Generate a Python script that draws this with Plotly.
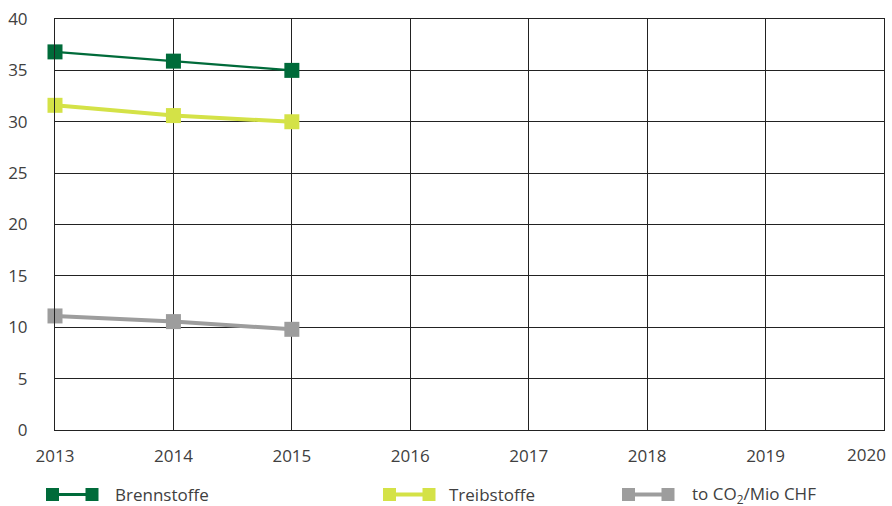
import plotly.graph_objects as go

years = [2013, 2014, 2015]
brennstoffe = [36.8, 35.9, 35.0]
treibstoffe = [31.6, 30.6, 30.0]
co2_mio_chf = [11.1, 10.55, 9.8]

x_ticks = [2013, 2014, 2015, 2016, 2017, 2018, 2019, 2020]
y_ticks = [0, 5, 10, 15, 20, 25, 30, 35, 40]

series = [
    ("Brennstoffe", brennstoffe, "#006B3A", 2.2),
    ("Treibstoffe", treibstoffe, "#D4E247", 4),
    ("to CO<sub>2</sub>/Mio CHF", co2_mio_chf, "#9D9D9D", 4),
]

fig = go.Figure()
for name, vals, color, lw in series:
    fig.add_trace(go.Scatter(
        x=years, y=vals, name=name, mode="lines+markers",
        line=dict(color=color, width=lw),
        marker=dict(symbol="square", size=15, color=color),
        cliponaxis=False, showlegend=False,
    ))

font = "Open Sans, Noto Sans, sans-serif"
tickfont = dict(family=font, size=17, color="#404040")
axis_common = dict(
    showgrid=True, gridcolor="#222222", gridwidth=1,
    showline=True, linecolor="#222222", linewidth=1, mirror=True,
    zeroline=False, ticks="", tickfont=tickfont,
)
# last x label would overflow the page edge; it is placed as a right-aligned annotation
fig.update_xaxes(range=[2013, 2020], tickvals=x_ticks,
                 ticktext=[str(v) if v != x_ticks[-1] else "" for v in x_ticks],
                 ticklabelstandoff=11, **axis_common)
fig.update_yaxes(range=[0, 40.0005], tickvals=y_ticks, ticklabelstandoff=23, **axis_common)

shapes = []
annotations = [dict(xref="x", yref="paper", x=x_ticks[-1], y=0, xanchor="right", yanchor="top",
                    xshift=4, yshift=-11, showarrow=False, text=str(x_ticks[-1]), font=tickfont)]
leg_y = 494.5
leg_items = [(46, 113), (383, 447), (622, 690)]
W, H = 892, 506
ml, mr, mt, mb = 55, 8, 19, 76
pw, ph = W - ml - mr, H - mt - mb
def fx(xp):
    return (xp - ml) / pw
def fy(yp):
    return (H - mb - yp) / ph

for (sx, tx), (name, vals, color, lw) in zip(leg_items, series):
    shapes.append(dict(type="line", xref="paper", yref="paper",
                       x0=fx(sx + 7), x1=fx(sx + 46), y0=fy(leg_y), y1=fy(leg_y),
                       line=dict(color=color, width=max(lw, 3))))
    for cx in (sx + 6.5, sx + 46):
        shapes.append(dict(type="rect", xref="paper", yref="paper",
                           x0=fx(cx - 6.5), x1=fx(cx + 6.5), y0=fy(leg_y - 6.5), y1=fy(leg_y + 6.5),
                           line=dict(width=0), fillcolor=color))
    annotations.append(dict(xref="paper", yref="paper", x=fx(tx), y=fy(leg_y),
                            xanchor="left", yanchor="middle", showarrow=False,
                            text=name, font=dict(family=font, size=17, color="#404040")))

fig.update_layout(
    width=W, height=H,
    margin=dict(l=ml, r=mr, t=mt, b=mb),
    plot_bgcolor="white", paper_bgcolor="white",
    shapes=shapes, annotations=annotations,
    showlegend=False,
)
fig.write_html("out.html")
